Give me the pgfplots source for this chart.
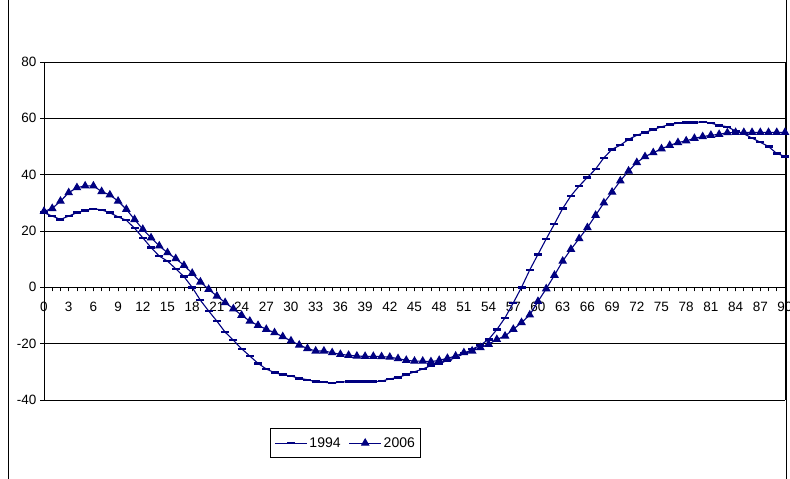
\documentclass[border=0pt]{standalone}
\usepackage{pgfplots}
\pgfplotsset{compat=1.18}
\usepackage{fontspec}
\setmainfont{Liberation Sans}
\definecolor{navy}{RGB}{0,0,128}
\begin{document}
\begin{tikzpicture}[x=1pt,y=1pt]
\useasboundingbox (-44,-79) rectangle (746,400);
\draw[black,line width=0.8pt] (-36,-79) -- (-36,400);
\draw[black,line width=0.8pt] (742,-79) -- (742,400);
\begin{axis}[at={(0,0)},anchor=south west,scale only axis,width=741pt,height=338pt,
 xmin=0,xmax=90,ymin=-40,ymax=80,
 axis x line=middle, axis y line=left, axis line style={-,black,line width=1pt},
 xtick={0,3,...,90}, minor xtick={0,1,...,90}, tick align=outside,
 major tick length=4pt, minor tick length=4pt,
 ytick={-40,-20,0,20,40,60,80}, ymajorgrids, grid style={black,line width=0.8pt},
 tick style={black,line width=0.8pt},
 hide obscured x ticks=false,
 x tick label style={yshift=-7pt,inner xsep=0pt},
 ticklabel style={font=\fontsize{13.5}{14}\selectfont},
 /pgf/number format/assume math mode=true,
 clip=false,
 legend columns=2,
 legend style={at={(0.305,-0.083)},anchor=north west,draw=black,line width=0.8pt,font=\fontsize{14}{15}\selectfont,
  inner xsep=4pt,inner ysep=7pt,/tikz/every even column/.append style={column sep=6pt}},
 legend image code/.code={\draw[#1,mark repeat=2,mark phase=2] plot coordinates {(0pt,0pt)(16pt,0pt)(32pt,0pt)};},
]
\draw[black,line width=0.8pt] (axis cs:90,-40) -- (axis cs:90,80);
\addplot[navy,line width=1.1pt,mark=-,mark size=4pt,mark options={line width=2.4pt}] coordinates {
(0,26.5)(1,25.3)(2,24.1)(3,25.3)(4,26.5)(5,27.3)(6,27.9)(7,27.5)(8,26.5)(9,25)
(10,23.8)(11,21)(12,17.6)(13,14.1)(14,11.1)(15,9.3)(16,6.6)(17,3.8)(18,0)(19,-4.6)
(20,-8.4)(21,-12)(22,-15.9)(23,-18.8)(24,-21.8)(25,-24.4)(26,-27)(27,-29)(28,-30.3)(29,-31)
(30,-31.5)(31,-32.3)(32,-32.8)(33,-33.5)(34,-33.7)(35,-34)(36,-33.6)(37,-33.5)(38,-33.5)(39,-33.5)
(40,-33.5)(41,-33.3)(42,-32.5)(43,-32)(44,-31)(45,-30)(46,-29)(47,-27.8)(48,-27)(49,-26)
(50,-25)(51,-23.5)(52,-22)(53,-20.5)(54,-18.5)(55,-15)(56,-10.8)(57,-5.5)(58,0)(59,6.2)
(60,11.7)(61,17.2)(62,22.5)(63,28)(64,32.5)(65,36)(66,39)(67,42)(68,46)(69,49)
(70,50.5)(71,52.5)(72,54)(73,55)(74,56)(75,57)(76,57.8)(77,58.3)(78,58.5)(79,58.5)
(80,58.8)(81,58.3)(82,57.5)(83,57)(84,55.5)(85,54.5)(86,53)(87,51.5)(88,50)(89,47.5)(90,46.5)
};
\addlegendentry{1994}
\addplot[navy,line width=1.1pt,mark=triangle*,mark size=4pt] coordinates {
(0,27)(1,28)(2,30.6)(3,33.6)(4,35.4)(5,36)(6,36)(7,34)(8,32.8)(9,30.6)
(10,27.7)(11,24.1)(12,20.6)(13,17.6)(14,14.7)(15,12.3)(16,10.2)(17,7.8)(18,5)(19,1.9)
(20,-0.7)(21,-3.1)(22,-5.4)(23,-7.6)(24,-9.9)(25,-12)(26,-13.5)(27,-14.9)(28,-16.1)(29,-17.5)
(30,-19)(31,-20.5)(32,-21.7)(33,-22.6)(34,-22.6)(35,-23.2)(36,-23.8)(37,-24.1)(38,-24.4)(39,-24.5)
(40,-24.5)(41,-24.6)(42,-24.8)(43,-25.3)(44,-25.9)(45,-26.2)(46,-26.2)(47,-26.4)(48,-25.9)(49,-25.2)
(50,-24.4)(51,-23.2)(52,-22.6)(53,-21.4)(54,-20.2)(55,-18.5)(56,-17.3)(57,-14.9)(58,-12.5)(59,-9.8)
(60,-5)(61,-0.5)(62,4.3)(63,9.3)(64,13.5)(65,17.3)(66,21.2)(67,25.6)(68,30)(69,33.8)
(70,37.8)(71,41.3)(72,44.3)(73,46.4)(74,47.8)(75,49.2)(76,50.4)(77,51.4)(78,52)(79,52.9)
(80,53.5)(81,54)(82,54.3)(83,54.9)(84,55)(85,55)(86,55)(87,55)(88,55)(89,55)(90,55)
};
\addlegendentry{2006}
\end{axis}
\end{tikzpicture}
\end{document}
